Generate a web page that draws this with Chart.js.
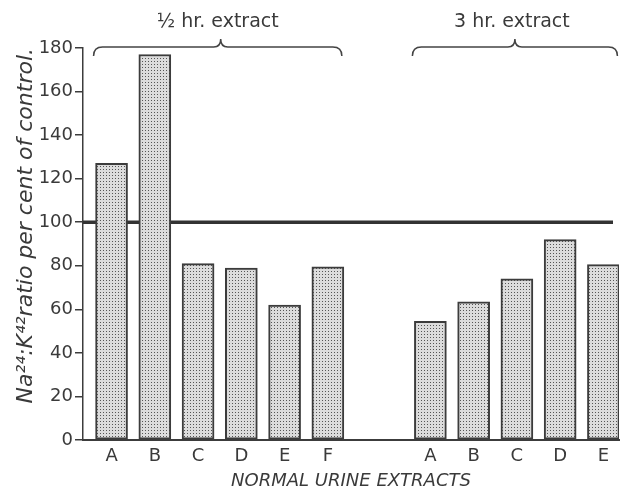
<!DOCTYPE html>
<html>
<head>
<meta charset="utf-8">
<script src="https://cdn.jsdelivr.net/npm/chart.js@4.4.1/dist/chart.umd.min.js"></script>
<style>
  html, body { margin: 0; padding: 0; background: #fff; }
  canvas { display: block; }
</style>
</head>
<body>
<canvas id="chart" width="622" height="492"></canvas>
<script>
// values (per cent of control)
const halfHrLabels = ['A', 'B', 'C', 'D', 'E', 'F'];
const halfHrValues = [127, 177, 81, 79, 62, 79.5];
const threeHrLabels = ['A', 'B', 'C', 'D', 'E'];
const threeHrValues = [54.5, 63.5, 74, 92, 80.5];
const yTicks = [0, 20, 40, 60, 80, 100, 120, 140, 160, 180];
const groupTitles = ['\u00BD hr. extract', '3 hr. extract'];
const controlLevel = 100;

// layout: second group starts a bit more than two slots after the first
const GROUP_GAP = 7.37;
const BAR_PX = 32;
const INK = '#3a3a3a';
const FONT = "'DejaVu Sans', sans-serif";

const halfHrX = halfHrLabels.map((_, i) => i);
const threeHrX = threeHrLabels.map((_, i) => GROUP_GAP + i);
const allX = halfHrX.concat(threeHrX);
const allLabels = halfHrLabels.concat(threeHrLabels);
const allValues = halfHrValues.concat(threeHrValues);

// stippled fill like the printed bars
function makeStipple() {
  const c = document.createElement('canvas');
  c.width = 3; c.height = 3;
  const g = c.getContext('2d');
  g.fillStyle = '#dcdcdc';
  g.fillRect(0, 0, 3, 3);
  g.fillStyle = '#555';
  g.fillRect(1, 1, 1, 1);
  return g.createPattern(c, 'repeat');
}
const stipple = makeStipple();

const controlLine = {
  id: 'controlLine',
  beforeDatasetsDraw(chart) {
    const { ctx, chartArea, scales } = chart;
    const y = scales.y.getPixelForValue(controlLevel);
    ctx.save();
    ctx.strokeStyle = '#333';
    ctx.lineWidth = 3.5;
    ctx.beginPath();
    ctx.moveTo(chartArea.left, y);
    ctx.lineTo(chartArea.right - 6, y);
    ctx.stroke();
    ctx.restore();
  }
};

const braces = {
  id: 'braces',
  afterDraw(chart) {
    const { ctx, scales } = chart;
    const groups = [halfHrX, threeHrX];
    const y0 = 47;
    ctx.save();
    ctx.strokeStyle = '#444';
    ctx.lineWidth = 1.5;
    ctx.fillStyle = INK;
    ctx.font = '19px ' + FONT;
    ctx.textAlign = 'center';
    ctx.textBaseline = 'middle';
    groups.forEach((xs, gi) => {
      const xl = scales.x.getPixelForValue(xs[0]) - BAR_PX / 2 - 2;
      const xr = scales.x.getPixelForValue(xs[xs.length - 1]) + BAR_PX / 2 - 2;
      const tip = gi === 0 ? (xl + xr) / 2 + 3 : (xl + xr) / 2;
      ctx.beginPath();
      ctx.moveTo(xl, y0 + 9);
      ctx.quadraticCurveTo(xl, y0, xl + 9, y0);
      ctx.lineTo(tip - 7, y0);
      ctx.quadraticCurveTo(tip, y0, tip, y0 - 8);
      ctx.quadraticCurveTo(tip, y0, tip + 7, y0);
      ctx.lineTo(xr - 9, y0);
      ctx.quadraticCurveTo(xr, y0, xr, y0 + 9);
      ctx.stroke();
      ctx.fillText(groupTitles[gi], tip - 3, 22);
    });
    ctx.restore();
  }
};

const points = allX.map((x, i) => ({ x: x, y: allValues[i] }));

new Chart(document.getElementById('chart'), {
  type: 'bar',
  data: {
    datasets: [{
      data: points,
      backgroundColor: stipple,
      borderColor: '#3c3c3c',
      borderWidth: 2,
      borderSkipped: false,
      barThickness: BAR_PX
    }]
  },
  options: {
    responsive: false,
    animation: false,
    devicePixelRatio: 1,
    layout: { padding: { top: 48, right: 3, left: 0, bottom: 0 } },
    plugins: { legend: { display: false }, tooltip: { enabled: false } },
    scales: {
      x: {
        type: 'linear',
        offset: false,
        min: -0.66,
        max: GROUP_GAP + 4.36,
        afterBuildTicks(scale) {
          scale.ticks = allX.map(v => ({ value: v }));
        },
        ticks: {
          autoSkip: false,
          maxRotation: 0,
          padding: 7,
          color: INK,
          font: { family: FONT, size: 18, lineHeight: 1 },
          callback: (v, i) => allLabels[i]
        },
        grid: { display: false, drawTicks: false },
        border: { display: true, color: '#3c3c3c', width: 2 },
        title: {
          display: true,
          text: 'NORMAL URINE EXTRACTS',
          color: INK,
          font: { family: FONT, size: 18, style: 'italic', lineHeight: 1 },
          padding: { top: 0, bottom: 2 }
        }
      },
      y: {
        min: 0,
        max: 180,
        afterBuildTicks(scale) {
          scale.ticks = yTicks.map(v => ({ value: v }));
        },
        afterFit(scale) { scale.width = 83; },
        ticks: {
          padding: 2,
          color: INK,
          font: { family: FONT, size: 18 }
        },
        grid: { drawOnChartArea: false, drawTicks: true, tickLength: 8, color: '#3c3c3c', lineWidth: 1.5 },
        border: { display: true, color: '#3c3c3c', width: 1.5 },
        title: {
          display: true,
          text: 'Na\u00B2\u2074:K\u2074\u00B2ratio per cent of control.',
          align: 'end',
          color: INK,
          font: { family: FONT, size: 22, style: 'italic' },
          padding: { top: 13, bottom: 0 }
        }
      }
    }
  },
  plugins: [controlLine, braces]
});
</script>
</body>
</html>
